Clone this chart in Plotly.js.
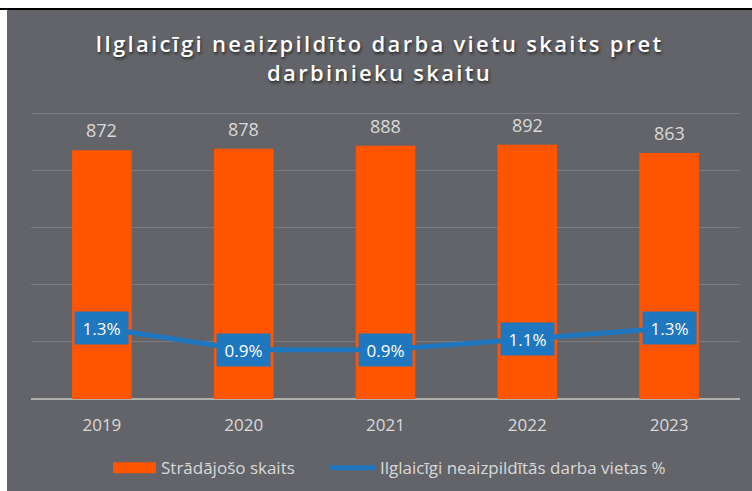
<!DOCTYPE html>
<html><head><meta charset="utf-8">
<script src="https://cdn.plot.ly/plotly-3.0.1.min.js"></script>
<style>
html,body{margin:0;padding:0;background:#fff;width:752px;height:491px;overflow:hidden;}
#topline{position:absolute;left:0;top:8px;width:752px;height:2px;background:#000;}
#chart{position:absolute;left:7px;top:10px;width:745px;height:481px;}
.gtitle{letter-spacing:2.3px;}
</style></head>
<body>
<div id="topline"></div>
<div id="chart"></div>
<script>
const years = ['2019','2020','2021','2022','2023'];
const workers = [872, 878, 888, 892, 863];
const vacancyPct = [1.3, 0.9, 0.9, 1.1, 1.3];
const seriesNames = ['Strādājošo skaits', 'Ilglaicīgi neaizpildītās darba vietas %'];
const gridValues = [200, 400, 600, 800, 1000];
const titleText = 'Ilglaicīgi neaizpildīto darba vietu skaits pret<br>darbinieku skaitu';

const ORANGE = '#FF5500';
const BLUE = '#1F77C0';
const BG = '#636469';
const LABEL = '#D9D9D9';
const FONT = 'Open Sans, sans-serif';

const bar = {
  type: 'bar', x: years, y: workers, name: seriesNames[0],
  marker: {color: ORANGE}, width: 0.42, hoverinfo: 'none'
};
const line = {
  type: 'scatter', mode: 'lines', x: years, y: vacancyPct, name: seriesNames[1],
  yaxis: 'y2', line: {color: BLUE, width: 5}, hoverinfo: 'none'
};

const annotations = [];
years.forEach((yr, i) => {
  annotations.push({
    x: i, y: workers[i], xref: 'x', yref: 'y', text: String(workers[i]),
    showarrow: false, yanchor: 'bottom', yshift: 6,
    font: {family: FONT, size: 18, color: LABEL}
  });
  annotations.push({
    x: i, y: vacancyPct[i], xref: 'x', yref: 'y2', text: vacancyPct[i].toFixed(1) + '%',
    showarrow: false, bgcolor: BLUE, width: 51, height: 30, borderpad: 1,
    font: {family: FONT, size: 17, color: '#FFFFFF'}
  });
});
// legend (custom, to match wide swatches)
const LEGY = -0.239;
annotations.push({xref: 'paper', yref: 'paper', x: 0.180, y: LEGY, xanchor: 'left', yanchor: 'middle',
  text: seriesNames[0], showarrow: false, font: {family: FONT, size: 17, color: LABEL}});
annotations.push({xref: 'paper', yref: 'paper', x: 0.4900, y: LEGY, xanchor: 'left', yanchor: 'middle',
  text: seriesNames[1], showarrow: false, font: {family: FONT, size: 17, color: LABEL}});

const shapes = [
  {type: 'rect', xref: 'paper', yref: 'paper', x0: 0.1157, x1: 0.1763, y0: LEGY - 0.019, y1: LEGY + 0.019,
   fillcolor: ORANGE, line: {width: 0}},
  {type: 'line', xref: 'paper', yref: 'paper', x0: 0.4217, x1: 0.4866, y0: LEGY, y1: LEGY,
   line: {color: BLUE, width: 5}}
];

const layout = {
  width: 745, height: 481,
  paper_bgcolor: BG, plot_bgcolor: BG,
  margin: {l: 24, r: 12, t: 101, b: 92},
  showlegend: false,
  title: {text: titleText, x: 0.5, xanchor: 'center', y: 0.912, yanchor: 'top',
    font: {family: FONT, size: 22, color: '#FFFFFF', weight: 600, shadow: '1px 2px 3px rgba(0,0,0,0.6)'}},
  xaxis: {type: 'category', range: [-0.5, 4.5], autorange: false, showgrid: false, showline: false, zeroline: false, ticks: '',
    tickfont: {family: FONT, size: 17, color: LABEL}, ticklabelstandoff: 14},
  yaxis: {range: [0, 1010], autorange: false, tickvals: gridValues, showticklabels: false, gridcolor: '#7A7B80', gridwidth: 1,
    zeroline: true, zerolinecolor: '#B0B0B0', zerolinewidth: 2, showline: false},
  yaxis2: {range: [0, 5.27], autorange: false, overlaying: 'y', visible: false, showgrid: false, zeroline: false},
  annotations: annotations,
  shapes: shapes
};

Plotly.newPlot('chart', [bar, line], layout, {displayModeBar: false, staticPlot: true});
</script>
</body></html>
